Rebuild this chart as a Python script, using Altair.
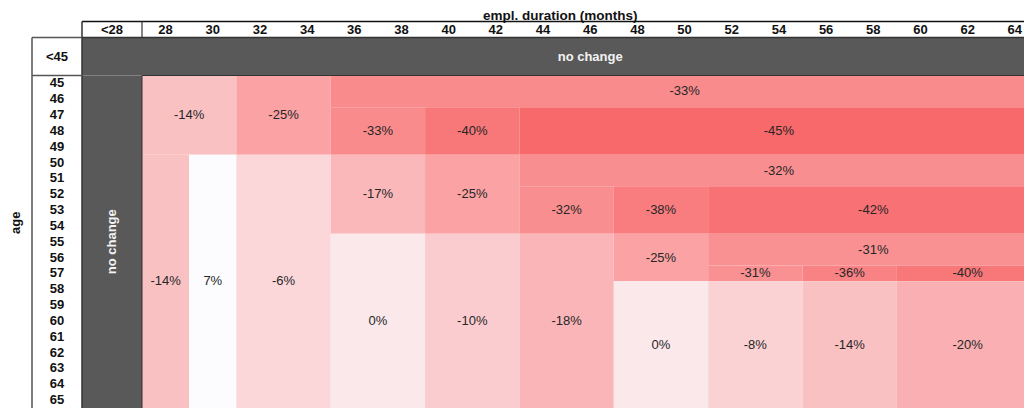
import altair as alt
import pandas as pd

# ---------------- data ----------------
col_labels = ["<28", "28", "30", "32", "34", "36", "38", "40", "42", "44", "46",
              "48", "50", "52", "54", "56", "58", "60", "62", "64"]
col_months = [None, 28, 30, 32, 34, 36, 38, 40, 42, 44, 46,
              48, 50, 52, 54, 56, 58, 60, 62, 64]
age_labels = ["<45", "45", "46", "47", "48", "49", "50", "51", "52", "53", "54",
              "55", "56", "57", "58", "59", "60", "61", "62", "63", "64", "65"]
age_values = [None, 45, 46, 47, 48, 49, 50, 51, 52, 53, 54,
              55, 56, 57, 58, 59, 60, 61, 62, 63, 64, 65]

# cell blocks: month from / to (exclusive), age from / to (inclusive), change in %
cell_m0 = [28, 28, 30, 32, 32, 36, 36, 40, 44, 36, 40, 44, 44, 48, 52,
           36, 40, 44, 48, 48, 52, 52, 56, 60, 52, 56, 60]
cell_m1 = [32, 30, 32, 36, 36, 66, 40, 44, 66, 40, 44, 66, 48, 52, 66,
           40, 44, 48, 52, 52, 66, 56, 60, 66, 56, 60, 66]
cell_a0 = [45, 50, 50, 45, 50, 45, 47, 47, 47, 50, 50, 50, 52, 52, 52,
           55, 55, 55, 55, 58, 55, 57, 57, 57, 58, 58, 58]
cell_a1 = [49, 65, 65, 49, 65, 46, 49, 49, 49, 54, 54, 51, 54, 54, 54,
           65, 65, 65, 57, 65, 56, 57, 57, 57, 65, 65, 65]
cell_val = [-14, -14, 7, -25, -6, -33, -33, -40, -45, -17, -25, -32, -32, -38, -42,
            0, -10, -18, -25, 0, -31, -31, -36, -40, -8, -14, -20]

# ---------------- layout ----------------
W, H = 1016, 400
PXM = 23.59      # px per month
Y45 = 67.5       # local px of age 45
PXA = (H - Y45) / 21   # px per age row (rows 45..65 fill the rest)
X28 = 134.0      # local px of month 28
x_dom = [28 - X28 / PXM, 28 + (W - X28) / PXM]
y_dom = [45 - Y45 / PXA, 45 + (H - Y45) / PXA]
LT28_X0 = 28 - 60 / PXM       # left edge of "<28" column
ROWHDR_X0 = 28 - 110 / PXM    # left edge of row header box
LT45_Y0 = 45 - 38 / PXA       # top edge of "<45" row
HDR_Y0 = LT45_Y0 - 16 / PXA   # top edge of column header
TITLE_Y = y_dom[0] + 1 / PXA  # title sits at the very top
AGE_X = ROWHDR_X0 - 16 / PXM
END_M = 66
END_A = 66

FONT = "Liberation Sans"
xs = alt.Scale(domain=x_dom, nice=False, zero=False)
ys = alt.Scale(domain=y_dom, nice=False, zero=False, reverse=True)


def X(f):
    return alt.X(f, type="quantitative", scale=xs, axis=None)


def Y(f):
    return alt.Y(f, type="quantitative", scale=ys, axis=None)


cells = pd.DataFrame({
    "m0": cell_m0, "m1": cell_m1,
    "a0": cell_a0, "a1p": [a + 1 for a in cell_a1],
    "val": cell_val,
})
cells["mc"] = (cells.m0 + cells.m1) / 2
cells["ac"] = (cells.a0 + cells.a1p) / 2
cells["lbl"] = [f"{v}%" for v in cell_val]

gray = pd.DataFrame({
    "x": [LT28_X0, LT28_X0], "x2": [END_M, 28],
    "y": [LT45_Y0, 45], "y2": [45, END_A],
})

heads = pd.DataFrame({
    "lbl": col_labels,
    "xc": [(LT28_X0 + 28) / 2 if m is None else m + 1 for m in col_months],
    "yc": (HDR_Y0 + LT45_Y0) / 2,
})
rows = pd.DataFrame({
    "lbl": age_labels,
    "yc": [(LT45_Y0 + 45) / 2 if a is None else a + 0.5 for a in age_values],
    "xc": (ROWHDR_X0 + LT28_X0) / 2,
})

lines = pd.DataFrame([
    # column header box
    dict(x=LT28_X0, x2=END_M, y=HDR_Y0, y2=HDR_Y0, c="#111111", w=1.5),
    dict(x=LT28_X0, x2=END_M, y=LT45_Y0, y2=LT45_Y0, c="#333333", w=1.5),
    dict(x=28, x2=28, y=HDR_Y0, y2=LT45_Y0, c="#333333", w=1.2),
    dict(x=LT28_X0, x2=LT28_X0, y=HDR_Y0, y2=END_A, c="#333333", w=1.5),
    # row header box
    dict(x=ROWHDR_X0, x2=LT28_X0, y=LT45_Y0, y2=LT45_Y0, c="#555555", w=1.5),
    dict(x=ROWHDR_X0, x2=LT28_X0, y=45, y2=45, c="#555555", w=1.5),
    dict(x=ROWHDR_X0, x2=ROWHDR_X0, y=LT45_Y0, y2=END_A, c="#555555", w=1.5),
    # border of the value region
    dict(x=28, x2=END_M, y=45, y2=45, c="#333333", w=1.0),
    dict(x=28, x2=28, y=45, y2=END_A, c="#333333", w=1.0),
])

nochange = pd.DataFrame({
    "lbl": ["no change", "no change"],
    "x": [(28 + END_M) / 2, (LT28_X0 + 28) / 2],
    "y": [(LT45_Y0 + 45) / 2, (45 + END_A) / 2],
    "ang": [0, 270],
})

# ---------------- layers ----------------
gray_l = alt.Chart(gray).mark_rect(color="#595959", clip=True).encode(
    x=X("x"), x2="x2", y=Y("y"), y2="y2")

cell_l = alt.Chart(cells).mark_rect(clip=True).encode(
    x=X("m0"), x2="m1", y=Y("a0"), y2="a1p",
    color=alt.Color("val:Q", legend=None,
                    scale=alt.Scale(domain=[-45, 7],
                                    range=["#F8696B", "#FCFCFF"],
                                    interpolate="rgb")))

cell_t = alt.Chart(cells).mark_text(
    font=FONT, fontSize=13, color="#262626", baseline="middle", align="center"
).encode(x=X("mc"), y=Y("ac"), text="lbl")

rule_l = alt.Chart(lines).mark_rule(clip=True).encode(
    x=X("x"), x2="x2", y=Y("y"), y2="y2",
    color=alt.Color("c:N", scale=None),
    strokeWidth=alt.StrokeWidth("w:Q", scale=None))

head_t = alt.Chart(heads).mark_text(
    font=FONT, fontSize=13, fontWeight="bold", color="#111111",
    baseline="middle", align="center"
).encode(x=X("xc"), y=Y("yc"), text="lbl")

row_t = alt.Chart(rows).mark_text(
    font=FONT, fontSize=13, fontWeight="bold", color="#111111",
    baseline="middle", align="center"
).encode(x=X("xc"), y=Y("yc"), text="lbl")

nc_t = alt.Chart(nochange).mark_text(
    font=FONT, fontSize=13, fontWeight="bold", color="#f2f2f2",
    baseline="middle", align="center"
).encode(x=X("x"), y=Y("y"), text="lbl",
         angle=alt.Angle("ang:Q", scale=None))

xtitle_t = alt.Chart(pd.DataFrame({
    "lbl": ["empl. duration (months)"],
    "x": [(LT28_X0 + END_M) / 2], "y": [TITLE_Y]})
).mark_text(
    font=FONT, fontSize=13.5, fontWeight="bold", color="#111111",
    baseline="top", align="center"
).encode(x=X("x"), y=Y("y"), text="lbl")

ytitle_t = alt.Chart(pd.DataFrame({
    "lbl": ["age"],
    "x": [AGE_X], "y": [(LT45_Y0 + END_A) / 2]})
).mark_text(
    font=FONT, fontSize=13, fontWeight="bold", color="#111111",
    baseline="middle", align="center", angle=270
).encode(x=X("x"), y=Y("y"), text="lbl")

chart = alt.layer(
    gray_l, cell_l, rule_l, cell_t, head_t, row_t, nc_t, xtitle_t, ytitle_t
).properties(
    width=W, height=H,
    autosize=alt.AutoSizeParams(type="none"),
    padding=0,
    background="white",
).configure_view(stroke=None)

chart.save("out.html", embed_options={"renderer": "svg", "actions": False})
